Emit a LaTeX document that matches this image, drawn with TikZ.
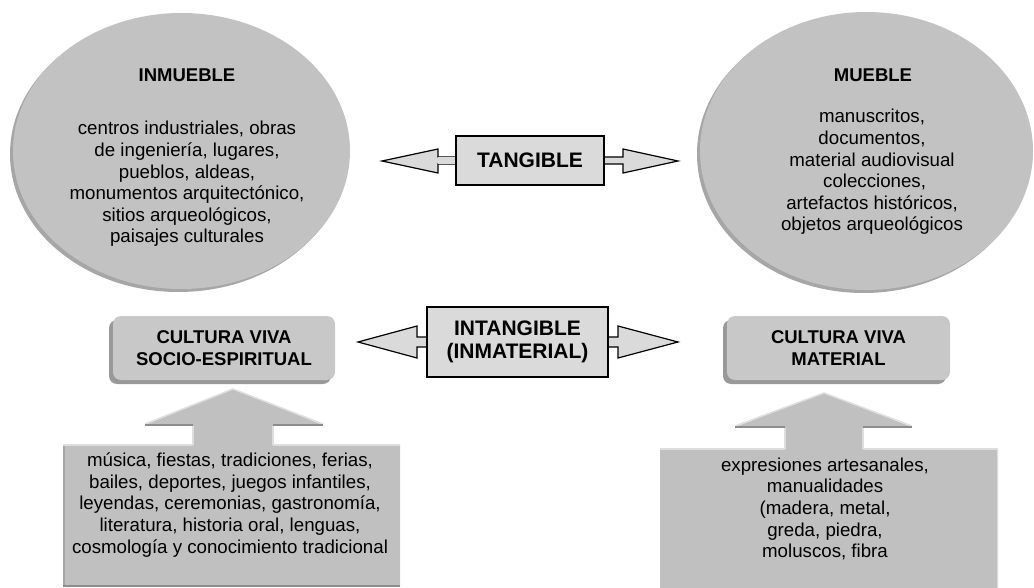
\documentclass[tikz,border=0pt]{standalone}
\usepackage{fontspec}
\setmainfont{Liberation Sans}
\usetikzlibrary{shapes.geometric,calc,shadows,backgrounds}
\definecolor{ellfill}{HTML}{C2C2C2}
\definecolor{ellshade}{HTML}{A6A6A6}
\definecolor{boxfill}{HTML}{DADADA}
\definecolor{rfill}{HTML}{C8C8C8}
\definecolor{rshade}{HTML}{999999}
\definecolor{cfill}{HTML}{C0C0C0}
\definecolor{clight}{HTML}{DEDEDE}
\definecolor{cdark}{HTML}{8C8C8C}
\tikzset{
  ell/.style={ellipse, inner sep=0pt, fill=ellfill,
    general shadow={fill=ellshade, shadow xshift=-3pt, shadow yshift=-3pt}},
  body/.style={align=center, inner sep=0pt, font=\fontsize{18.7}{21.6}\selectfont},
  head/.style={align=center, inner sep=0pt, font=\fontsize{18.5}{22}\selectfont\bfseries},
  bighead/.style={draw=black, line width=1.2pt, fill=boxfill, align=center, inner sep=0pt,
    font=\fontsize{21}{23}\selectfont\bfseries},
  barrow/.style={draw=black, line width=1.2pt, fill=boxfill, line join=miter},
  rbox/.style={rounded corners=8pt, fill=rfill, inner sep=0pt, align=center,
    font=\fontsize{18.5}{22}\selectfont\bfseries,
    general shadow={fill=rshade, rounded corners=8pt, shadow xshift=-4pt, shadow yshift=-4pt}},
  callout/.style={fill=cfill},
}
\begin{document}
\begin{tikzpicture}[x=1pt,y=-1pt]
\useasboundingbox (0,0) rectangle (1034,588);
% ellipses
\node[ell, minimum width=337pt, minimum height=276pt] (inm) at (181.5,151) {};
\node[ell, minimum width=333pt, minimum height=278pt] (mue) at (866.5,151) {};
\node[head] (inmh) at (187,75) {INMUEBLE};
\node[body] (inmt) at (187,184) {centros industriales, obras\\de ingeniería, lugares,\\pueblos, aldeas,\\monumentos arquitectónico,\\sitios arqueológicos,\\paisajes culturales};
\node[head] (mueh) at (873,75) {MUEBLE};
\node[body] (muet) at (872,172) {manuscritos,\\documentos,\\material audiovisual\\\ colecciones,\\artefactos históricos,\\objetos arqueológicos};
% TANGIBLE
\node[bighead, minimum width=148pt, minimum height=49pt] (tang) at (530,160.5) {TANGIBLE};
\coordinate (tangL) at (382,161);
\coordinate (tangR) at (678,161);
\begin{scope}[on background layer]
\draw[barrow] ($(tang.west)+(1,-3.5)$) -- (438,157) -- (438,149) -- (tangL) -- (438,173) -- (438,164) -- ($(tang.west)+(1,3.5)$);
\fill[boxfill] ($(tang.west)+(1,-3.5)$) -- (438,157) -- (438,164) -- ($(tang.west)+(1,3.5)$) -- cycle;
\draw[barrow] ($(tang.east)+(-1,-3.5)$) -- (623,157) -- (623,149) -- (tangR) -- (623,173) -- (623,164) -- ($(tang.east)+(-1,3.5)$);
\end{scope}
% INTANGIBLE
\node[bighead, minimum width=181pt, minimum height=70pt] (intang) at (517.5,342) {INTANGIBLE\\(INMATERIAL)};
\coordinate (intL) at (358,342);
\coordinate (intR) at (678,342);
\begin{scope}[on background layer]
\draw[barrow] ($(intang.west)+(1,-5)$) -- (417,337) -- (417,326) -- (intL) -- (417,358) -- (417,347) -- ($(intang.west)+(1,5)$);
\draw[barrow] ($(intang.east)+(-1,-5)$) -- (618,337) -- (618,326) -- (intR) -- (618,358) -- (618,347) -- ($(intang.east)+(-1,5)$);
\end{scope}
% rounded boxes
\node[rbox, minimum width=222pt, minimum height=64pt] (soc) at (224,348) {CULTURA VIVA\\SOCIO-ESPIRITUAL};
\node[rbox, minimum width=223pt, minimum height=64pt] (mat) at (838.5,348) {CULTURA VIVA\\MATERIAL};
% left callout
\coordinate (upL) at (233,389);
\fill[callout] (63,445) -- (193,445) -- (193,425) -- (145,425) -- (upL) -- (323,425) -- (273,425) -- (273,445) -- (400,445) -- (400,586) -- (63,586) -- cycle;
\draw[clight, line width=1.5pt] (145,424) -- (upL) -- (323,424);
\draw[cdark, line width=2pt] (145,425) -- (193,425) (273,425) -- (323,425);
\draw[clight, line width=1.5pt] (193,426) -- (193,445) (273,426) -- (273,445);
\draw[clight, line width=1.2pt] (63,445) -- (193,445) (273,445) -- (400,445);
\draw[ellshade, line width=2pt] (64,446) -- (64,586);
\draw[cdark, line width=1.5pt] (63,586) -- (400,586);
\node[body] (soct) at (230,505) {música, fiestas, tradiciones, ferias,\\bailes, deportes, juegos infantiles,\\leyendas, ceremonias, gastronomía,\\literatura, historia oral, lenguas,\\cosmología y conocimiento tradicional};
% right callout
\coordinate (upR) at (824,393);
\fill[callout] (660,449) -- (785,449) -- (785,427) -- (735,427) -- (upR) -- (912,427) -- (863,427) -- (863,449) -- (998,449) -- (998,592) -- (660,592) -- cycle;
\draw[clight, line width=1.5pt] (735,426) -- (upR) -- (912,426);
\draw[cdark, line width=2pt] (735,427) -- (785,427) (863,427) -- (912,427);
\draw[clight, line width=1.5pt] (785,428) -- (785,449) (863,428) -- (863,449);
\draw[clight, line width=1.2pt] (660,449) -- (785,449) (863,449) -- (998,449);
\draw[clight, line width=1.2pt] (997.5,449) -- (997.5,592);
\node[body] (matt) at (825,509) {expresiones artesanales,\\manualidades\\(madera, metal,\\greda, piedra,\\moluscos, fibra};
\end{tikzpicture}
\end{document}
